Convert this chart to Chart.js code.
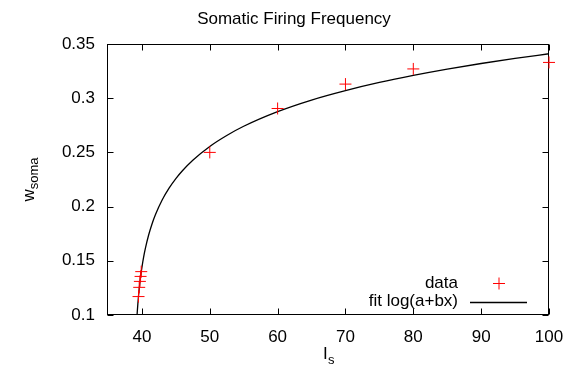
<!DOCTYPE html>
<html>
<head>
<meta charset="utf-8">
<script src="https://cdn.jsdelivr.net/npm/chart.js@4/dist/chart.umd.min.js"></script>
<style>
html, body { margin: 0; padding: 0; background: #fff; }
</style>
</head>
<body>
<canvas id="chart" width="581" height="372"></canvas>
<script>
// measured points
const dataX = [39.5, 39.6, 39.7, 39.8, 39.9, 50, 60, 70, 80, 100];
const dataY = [0.117, 0.1255, 0.131, 0.1356, 0.140, 0.250, 0.2905, 0.313, 0.327, 0.333];

// fit curve
const fitX = [39.25, 39.3, 39.4, 39.5, 39.6, 39.7, 39.8, 39.9, 40, 40.25, 40.5, 41, 41.5, 42, 43, 44, 45, 46, 47.5, 50, 52.5, 55, 60, 65, 70, 75, 80, 85, 90, 95, 100];
const fitY = [0.0966, 0.1016, 0.1103, 0.1177, 0.1242, 0.1299, 0.1351, 0.1398, 0.1440, 0.1534, 0.1612, 0.1740, 0.1842, 0.1927, 0.2063, 0.2170, 0.2258, 0.2333, 0.2428, 0.2555, 0.2656, 0.2741, 0.2876, 0.2983, 0.3070, 0.3145, 0.3210, 0.3268, 0.3320, 0.3367, 0.3410];

const xTicks = [40, 50, 60, 70, 80, 90, 100];
const yTicks = [0.1, 0.15, 0.2, 0.25, 0.3, 0.35];

const FONT = '"Liberation Sans", Arial, sans-serif';

// frame + inward ticks (gnuplot style)
const framePlugin = {
	id: 'frame',
	beforeDatasetsDraw(chart) {
		const {ctx, chartArea: a, scales} = chart;
		const L = Math.round(a.left) - 0.5, R = Math.round(a.right) - 0.5;
		const T = Math.round(a.top) + 0.5, B = Math.round(a.bottom) - 0.5;
		ctx.save();
		ctx.strokeStyle = '#000';
		ctx.lineWidth = 1;
		ctx.strokeRect(L, T, R - L, B - T);
		ctx.beginPath();
		xTicks.forEach(v => {
			const px = Math.round(scales.x.getPixelForValue(v)) + 0.5;
			ctx.moveTo(px, B); ctx.lineTo(px, B - 6);
			ctx.moveTo(px, T); ctx.lineTo(px, T + 6);
		});
		yTicks.forEach(v => {
			const py = Math.round(scales.y.getPixelForValue(v)) + 0.5;
			ctx.moveTo(L, py); ctx.lineTo(L + 6, py);
			ctx.moveTo(R, py); ctx.lineTo(R - 6, py);
		});
		ctx.stroke();
		ctx.restore();
	}
};

// title, axis titles with subscripts, legend
const textPlugin = {
	id: 'texts',
	afterDraw(chart) {
		const {ctx, chartArea: a} = chart;
		ctx.save();
		ctx.fillStyle = '#000';

		// title
		ctx.font = '17px ' + FONT;
		ctx.textAlign = 'center';
		ctx.textBaseline = 'middle';
		ctx.fillText('Somatic Firing Frequency', 294, 19);

		// x title: I_s
		ctx.textAlign = 'left';
		ctx.textBaseline = 'alphabetic';
		const cx = (a.left + a.right) / 2;
		ctx.font = '17px ' + FONT;
		const wI = ctx.measureText('I').width;
		ctx.font = '13px ' + FONT;
		const ws = ctx.measureText('s').width;
		let sx = cx - (wI + ws) / 2;
		ctx.font = '17px ' + FONT;
		ctx.fillText('I', sx, 359);
		ctx.font = '13px ' + FONT;
		ctx.fillText('s', sx + wI + 0.5, 364);

		// y title: w_soma
		ctx.save();
		ctx.translate(34, (a.top + a.bottom) / 2);
		ctx.rotate(-Math.PI / 2);
		ctx.font = '17px ' + FONT;
		const ww = ctx.measureText('w').width;
		ctx.font = '13px ' + FONT;
		const wsoma = ctx.measureText('soma').width;
		sx = -(ww + wsoma) / 2;
		ctx.font = '17px ' + FONT;
		ctx.fillText('w', sx, 0);
		ctx.font = '13px ' + FONT;
		ctx.fillText('soma', sx + ww, 4);
		ctx.restore();

		// legend
		ctx.font = '17px ' + FONT;
		ctx.textAlign = 'right';
		ctx.textBaseline = 'middle';
		chart.data.datasets.forEach((ds, i) => {
			const ty = a.bottom - 32 + i * 18.5;
			ctx.fillStyle = '#000';
			ctx.fillText(ds.label, a.right - 91, ty);
			ctx.strokeStyle = ds.borderColor;
			ctx.lineWidth = ds.borderWidth;
			ctx.beginPath();
			if (ds.showLine) {
				ctx.moveTo(a.right - 79, Math.round(ty) + 0.5);
				ctx.lineTo(a.right - 22, Math.round(ty) + 0.5);
			} else {
				const px = a.right - 50, py = Math.round(ty) + 0.5;
				ctx.moveTo(px - 6, py); ctx.lineTo(px + 6, py);
				ctx.moveTo(px, py - 6); ctx.lineTo(px, py + 6);
			}
			ctx.stroke();
		});
		ctx.restore();
	}
};

document.addEventListener('DOMContentLoaded', () => {
	const ctx = document.getElementById('chart').getContext('2d');
	new Chart(ctx, {
		type: 'scatter',
		data: {
			datasets: [
				{
					label: 'data',
					data: dataX.map((x, i) => ({x: x, y: dataY[i]})),
					pointStyle: 'cross',
					pointRadius: 6,
					pointHoverRadius: 6,
					borderColor: 'rgb(255, 0, 0)',
					backgroundColor: 'rgb(255, 0, 0)',
					borderWidth: 1,
					clip: false
				},
				{
					label: 'fit log(a+bx)',
					data: fitX.map((x, i) => ({x: x, y: fitY[i]})),
					showLine: true,
					pointRadius: 0,
					borderColor: '#000',
					borderWidth: 1.3,
					cubicInterpolationMode: 'monotone'
				}
			]
		},
		options: {
			responsive: false,
			animation: false,
			events: [],
			layout: { padding: { top: 44, right: 32, left: 0, bottom: 0 } },
			plugins: {
				legend: { display: false },
				title: { display: false },
				tooltip: { enabled: false }
			},
			scales: {
				x: {
					type: 'linear',
					min: 35,
					max: 100,
					afterBuildTicks: s => { s.ticks = xTicks.map(v => ({value: v})); },
					afterFit: s => { s.height = 57; },
					grid: { display: false },
					border: { display: false },
					ticks: {
						color: '#000',
						padding: 4,
						maxRotation: 0,
						font: { family: FONT, size: 17 },
						callback: v => String(v)
					}
				},
				y: {
					type: 'linear',
					min: 0.1,
					max: 0.35,
					afterBuildTicks: s => { s.ticks = yTicks.map(v => ({value: v})); },
					afterFit: s => { s.width = 108; },
					grid: { display: false },
					border: { display: false },
					ticks: {
						color: '#000',
						padding: 5,
						font: { family: FONT, size: 17 },
						callback: v => String(+v.toFixed(2))
					}
				}
			}
		},
		plugins: [framePlugin, textPlugin]
	});
});
</script>
</body>
</html>
